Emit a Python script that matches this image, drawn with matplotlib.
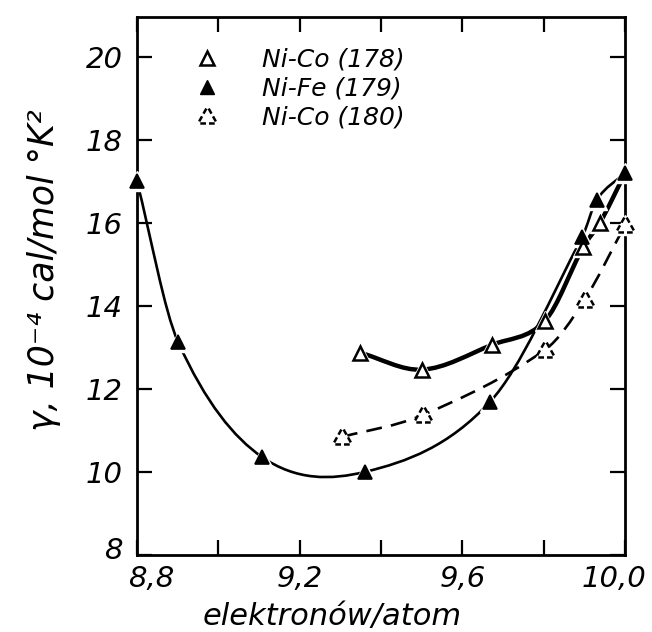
import numpy as np
import matplotlib
matplotlib.use("Agg")
import matplotlib.pyplot as plt
import matplotlib.transforms as mtransforms
from matplotlib.path import Path
from matplotlib.patches import PathPatch
from matplotlib.lines import Line2D
from matplotlib.ticker import FixedLocator, FuncFormatter

# ---------------- data ----------------
nico178_x = [9.348, 9.501, 9.673, 9.803, 9.897, 9.938]
nico178_y = [12.87, 12.46, 13.06, 13.64, 15.42, 16.00]

nife179_x = [8.80, 8.901, 9.107, 9.361, 9.668, 9.894, 9.930, 10.00]
nife179_y = [17.00, 13.13, 10.36, 10.00, 11.69, 15.65, 16.55, 17.20]

nico180_x = [9.304, 9.503, 9.803, 9.900, 10.00]
nico180_y = [10.84, 11.37, 12.94, 14.14, 15.95]

labels = ["Ni-Co (178)", "Ni-Fe (179)", "Ni-Co (180)"]
xticks_major = [8.8, 9.2, 9.6, 10.0]
xticks_minor = [9.0, 9.4, 9.8]
yticks = [8, 10, 12, 14, 16, 18, 20]

FONT = "DejaVu Sans"
plt.rcParams["font.family"] = [FONT]


def hermite_path(xs, ys):
    """Smooth path through the given nodes (cubic Hermite in x) as Bezier segments."""
    x = np.asarray(xs, float)
    y = np.asarray(ys, float)
    n = len(x)
    m = np.zeros(n)
    for i in range(n):
        if i == 0:
            m[i] = (y[1] - y[0]) / (x[1] - x[0])
        elif i == n - 1:
            m[i] = (y[-1] - y[-2]) / (x[-1] - x[-2])
        else:
            m[i] = (y[i + 1] - y[i - 1]) / (x[i + 1] - x[i - 1])
    verts = [(x[0], y[0])]
    codes = [Path.MOVETO]
    for i in range(n - 1):
        h = x[i + 1] - x[i]
        verts += [(x[i] + h / 3, y[i] + m[i] * h / 3),
                  (x[i + 1] - h / 3, y[i + 1] - m[i + 1] * h / 3),
                  (x[i + 1], y[i + 1])]
        codes += [Path.CURVE4] * 3
    return Path(verts, codes)


def broken_triangle():
    corners = np.array([[0.0, 1.0], [-0.95, -0.7], [0.95, -0.7]])
    verts, codes = [], []
    for k in range(3):
        a, b = corners[k], corners[(k + 1) % 3]
        p1 = a + (b - a) * 0.12
        p2 = a + (b - a) * 0.42
        p3 = a + (b - a) * 0.58
        p4 = a + (b - a) * 0.88
        verts += [p1, p2, p3, p4]
        codes += [Path.MOVETO, Path.LINETO, Path.MOVETO, Path.LINETO]
    return Path(verts, codes)


BT = broken_triangle()

fig = plt.figure(figsize=(6.52, 6.32), dpi=100)
ax = fig.add_axes([0.210, 0.122, 0.749, 0.851])
ax.set_xlim(8.8, 10.0)
ax.set_ylim(8.0, 20.95)

# curves
ax.add_patch(PathPatch(hermite_path(nife179_x, nife179_y), fill=False,
                       lw=1.9, ec="black", zorder=2, capstyle="round"))
ax.add_patch(PathPatch(hermite_path(nico178_x + [nife179_x[-1]], nico178_y + [nife179_y[-1]]),
                       fill=False, lw=3.2, ec="black", zorder=2, capstyle="round"))
ax.add_patch(PathPatch(hermite_path(nico180_x, nico180_y), fill=False, lw=1.9, ec="black",
                       zorder=2, linestyle=(0, (6, 3.5))))

# white halos around markers (gaps in the hand-drawn lines)
for xs, ys in [(nico178_x, nico178_y), (nife179_x, nife179_y), (nico180_x, nico180_y)]:
    ax.plot(xs, ys, ls="none", marker="^", ms=14, mfc="white", mec="white",
            zorder=3, clip_on=False)

ax.plot(nico178_x, nico178_y, ls="none", marker="^", ms=10, mfc="white", mec="black",
        mew=1.8, zorder=4, clip_on=False)
ax.plot(nife179_x, nife179_y, ls="none", marker="^", ms=10, mfc="black", mec="black",
        mew=1.2, zorder=4, clip_on=False)
ax.plot(nico180_x, nico180_y, ls="none", marker=BT, ms=12, mfc="none", mec="black",
        mew=1.8, zorder=4, clip_on=False)

# axes styling
for sp in ax.spines.values():
    sp.set_linewidth(2.0)
ax.xaxis.set_major_locator(FixedLocator(xticks_major))
ax.xaxis.set_minor_locator(FixedLocator(xticks_minor))
ax.yaxis.set_major_locator(FixedLocator(yticks))
ax.xaxis.set_major_formatter(FuncFormatter(lambda v, p: f"{v:.1f}".replace(".", ",")))
ax.yaxis.set_major_formatter(FuncFormatter(lambda v, p: f"{int(round(v))}"))
ax.tick_params(which="both", direction="in", length=11, width=1.6,
               top=True, right=True, labelsize=21)
ax.tick_params(axis="x", pad=7)
ax.tick_params(axis="y", pad=10)
for lab in ax.get_xticklabels() + ax.get_yticklabels():
    lab.set_fontstyle("italic")

# nudge the crowded corner labels like in the original
xt = ax.xaxis.get_major_ticks()
yt = ax.yaxis.get_major_ticks()
def nudge(label, dx, dy):
    label.set_transform(label.get_transform() +
                        mtransforms.ScaledTranslation(dx / 72, dy / 72, fig.dpi_scale_trans))
nudge(xt[0].label1, 10, 0)
nudge(xt[-1].label1, -8, 0)
nudge(yt[0].label1, 0, 5)

ax.text(0.40, -0.115, "elektronów/atom", transform=ax.transAxes, ha="center",
        va="center", fontsize=22, fontstyle="italic")
ax.text(-0.19, 0.53, "γ, 10⁻⁴ cal/mol °K²", transform=ax.transAxes, ha="center",
        va="center", fontsize=25, fontstyle="italic", rotation=90)

handles = [
    Line2D([], [], ls="none", marker="^", ms=10, mfc="white", mec="black", mew=1.8),
    Line2D([], [], ls="none", marker="^", ms=10, mfc="black", mec="black"),
    Line2D([], [], ls="none", marker=BT, ms=12, mfc="none", mec="black", mew=1.8),
]
leg = ax.legend(handles, labels, loc="upper left", bbox_to_anchor=(0.092, 0.962),
                frameon=False, handlelength=1.2, handletextpad=1.6,
                labelspacing=0.2, borderaxespad=0,
                prop={"family": FONT, "style": "italic", "size": 18})

fig.savefig("out.png", dpi=100, facecolor="white")
